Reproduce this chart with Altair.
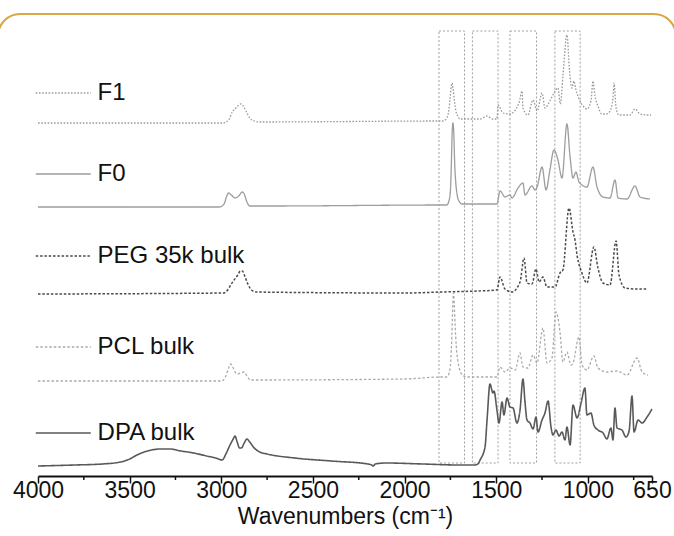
import altair as alt
import pandas as pd

# ---------------- data ----------------
F1_w = [4000, 2990, 2960, 2940, 2920, 2905, 2895, 2880, 2865, 2845, 2820, 2790,
        1800, 1790, 1770, 1760, 1752, 1745, 1741, 1736, 1728, 1720, 1710, 1698,
        1643, 1588, 1550, 1520, 1496, 1490, 1463, 1425, 1376, 1359, 1354, 1327, 1299, 1277, 1250, 1234,
        1207, 1185, 1163, 1150, 1136, 1114, 1100, 1087, 1076, 1065, 1050, 1030, 1005, 983, 972, 961, 945,
        923, 900, 879, 863, 857, 846, 830, 808, 770, 743, 715, 672, 655]
F1_v = [353, 353, 356, 364, 368, 371, 372, 370, 365, 358, 355, 354,
        355, 355, 358, 364, 377, 390, 393, 388, 375, 365, 360, 357,
        357, 357, 360, 357, 357, 371, 363, 362, 373, 385, 368, 361, 376, 365, 383, 368,
        375, 383, 388, 372, 400, 441, 405, 388, 395, 386, 378, 371, 367, 375, 395, 380, 370,
        362, 362, 365, 378, 393, 368, 361, 361, 361, 367, 362, 361, 361]

F0_w = [4000, 3010, 2985, 2970, 2960, 2945, 2925, 2905, 2885, 2875, 2860, 2845, 2734,
        1800, 1770, 1758, 1750, 1745, 1740, 1736, 1732, 1726, 1720, 1712, 1700, 1685,
        1600, 1496, 1479, 1452, 1425, 1414, 1381, 1354, 1343, 1305, 1288, 1277, 1250, 1228, 1207,
        1185, 1163, 1141, 1114, 1097, 1081, 1065, 1048, 1005, 972, 950, 917, 879, 852, 835, 786, 743,
        715, 661]
F0_v = [269, 269, 272, 280, 283, 281, 278, 280, 284, 282, 274, 270, 270,
        271, 271, 275, 285, 310, 345, 353, 345, 310, 292, 280, 274, 272,
        272, 272, 285, 279, 281, 278, 288, 293, 281, 290, 286, 289, 309, 286, 306,
        326, 316, 298, 352, 319, 298, 304, 294, 289, 309, 289, 279, 278, 296, 278, 277, 290,
        279, 277]

PEG_w = [4000, 2990, 2965, 2945, 2930, 2910, 2895, 2885, 2870, 2855, 2835, 2810, 2000,
         1800, 1600, 1496, 1479, 1452, 1414, 1370, 1348, 1332,
         1305, 1283, 1266, 1245, 1223, 1179, 1152, 1136, 1103, 1081, 1070, 1059, 1032, 1005, 967, 945,
         917, 879, 846, 830, 797, 732, 672]
PEG_v = [182, 183, 186, 192, 196, 201, 205, 205, 199, 192, 186, 184, 183,
         184, 185, 186, 199, 187, 184, 194, 218, 193,
         192, 207, 194, 199, 189, 189, 203, 206, 268, 244, 236, 221, 203, 193, 229, 208,
         193, 191, 235, 201, 188, 187, 187]

PCL_w = [4000, 3000, 2975, 2960, 2950, 2940, 2925, 2910, 2895, 2875, 2860, 2840, 2000,
         1800, 1770, 1757, 1748, 1742, 1737, 1733, 1729, 1724, 1718, 1710, 1700, 1685,
         1660, 1496, 1479, 1452, 1425, 1397, 1370, 1354, 1327, 1299, 1277, 1245, 1223, 1196, 1174, 1152,
         1136, 1114, 1092, 1081, 1048, 1032, 1005, 967, 945, 896, 841, 786, 732, 704, 672]
PCL_v = [95, 95, 100, 108, 112, 110, 104, 102, 103, 104, 100, 96, 97,
         99, 99, 103, 115, 140, 170, 183, 172, 150, 130, 116, 107, 101,
         99, 99, 109, 104, 108, 106, 123, 109, 108, 121, 113, 148, 113, 118, 164, 144,
         114, 124, 111, 113, 139, 111, 106, 120, 108, 104, 105, 101, 118, 104, 101]

DPA_w = [4000, 3800, 3650, 3550, 3500, 3460, 3420, 3380, 3330, 3280, 3220, 3150, 3080, 3030,
         2995, 2975, 2955, 2935, 2925, 2915, 2900, 2890, 2875, 2860, 2845, 2820, 2790, 2750, 2600,
         2400, 2200, 2180, 2170, 2160, 2100, 1900, 1700, 1620, 1600, 1588, 1561, 1550, 1534, 1518, 1512,
         1496, 1485, 1468, 1458, 1441, 1425, 1408, 1387, 1370, 1354, 1343, 1332, 1316, 1299, 1283, 1272,
         1250, 1234, 1217, 1201, 1190, 1174, 1157, 1141, 1125, 1114, 1097, 1081, 1059, 1037, 1016, 1005,
         983, 967, 945, 917, 896, 874, 863, 852, 841, 814, 792, 775, 759, 748, 726, 704, 677, 650]
DPA_v = [10, 11, 12, 14, 17, 21, 24, 26, 27, 27, 25, 23, 20, 18,
         16, 22, 30, 37, 40, 35, 28, 28, 33, 37, 34, 28, 24, 22, 18,
         15, 12, 11, 10, 12, 13, 12, 11, 11, 12, 16, 29, 56, 92, 83, 85,
         66, 53, 74, 61, 78, 69, 68, 53, 66, 97, 74, 56, 53, 47, 59, 44,
         56, 63, 75, 49, 41, 46, 40, 44, 36, 49, 31, 71, 58, 73, 88, 61,
         63, 51, 46, 43, 37, 48, 36, 68, 48, 46, 39, 45, 80, 44, 56, 53, 59, 67]

names = ["F1", "F0", "PEG 35k bulk", "PCL bulk", "DPA bulk"]
label_level = [383, 302, 220, 129, 43]

band_lo = [1673, 1490, 1280, 1042]
band_hi = [1812, 1630, 1425, 1180]

major_ticks = [4000, 3500, 3000, 2500, 2000, 1500, 1000, 650]
minor_ticks = [3750, 3250, 2750, 2250, 1750, 1250, 750]

# ---------------- styles ----------------
styles = {
    "F1": dict(color="#9a9a9a", strokeDash=[1.6, 1.6], strokeWidth=1.3),
    "F0": dict(color="#9d9d9d", strokeDash=[1, 0], strokeWidth=1.3),
    "PEG 35k bulk": dict(color="#4a4a4a", strokeDash=[2.5, 1.8], strokeWidth=1.5),
    "PCL bulk": dict(color="#ababab", strokeDash=[2.5, 2], strokeWidth=1.3),
    "DPA bulk": dict(color="#595959", strokeDash=[1, 0], strokeWidth=1.6),
}
series = {
    "F1": (F1_w, F1_v), "F0": (F0_w, F0_v), "PEG 35k bulk": (PEG_w, PEG_v),
    "PCL bulk": (PCL_w, PCL_v), "DPA bulk": (DPA_w, DPA_v),
}

W, H = 614, 446
FONT = "Liberation Sans"
xscale = alt.Scale(domain=[650, 4000], reverse=True, nice=False, zero=False)
yscale = alt.Scale(domain=[0, 446], nice=False, zero=False)

xaxis = alt.Axis(values=major_ticks, title="Wavenumbers (cm⁻¹)", grid=False,
                 labelFont=FONT, labelFontSize=23, labelColor="#111", labelPadding=-4,
                 titleFont=FONT, titleFontSize=23, titleFontWeight="normal", titleColor="#111",
                 titlePadding=3, tickSize=7, tickWidth=1.5, tickColor="#111",
                 domainColor="#111", domainWidth=1.8, labelFlush=False, labelOverlap=False,
                 format="d")

layers = []

# frame (decorative rounded border)
frame = alt.Chart(pd.DataFrame({"k": [0]})).mark_rect(
    filled=False, stroke="#d8a942", strokeWidth=2, cornerRadius=22
).encode(x=alt.value(-40), x2=alt.value(638), y=alt.value(-16), y2=alt.value(620))
layers.append(frame)

# dashed boxes
bands = pd.DataFrame({"lo": band_lo, "hi": band_hi, "top": [445] * 4, "bot": [13] * 4})
box = alt.Chart(bands).mark_rect(
    filled=False, stroke="#a0a0a0", strokeWidth=1, strokeDash=[2, 2]
).encode(x=alt.X("lo:Q", scale=xscale, axis=xaxis), x2="hi:Q",
         y=alt.Y("top:Q", scale=yscale, axis=None), y2="bot:Q")
layers.append(box)

# spectra
for n in names:
    w, v = series[n]
    df = pd.DataFrame({"w": w, "v": v})
    st = styles[n]
    layers.append(
        alt.Chart(df).mark_line(interpolate="monotone", **st).encode(
            x=alt.X("w:Q", scale=xscale, axis=xaxis),
            y=alt.Y("v:Q", scale=yscale, axis=None),
        )
    )

# legend-like labels
for n, lv in zip(names, label_level):
    st = styles[n]
    seg = pd.DataFrame({"a": [4012], "b": [3712], "y": [lv]})
    layers.append(
        alt.Chart(seg).mark_rule(**st).encode(
            x=alt.X("a:Q", scale=xscale, axis=xaxis), x2="b:Q",
            y=alt.Y("y:Q", scale=yscale, axis=None)))
    lab = pd.DataFrame({"t": [n], "x": [3675], "y": [lv]})
    layers.append(
        alt.Chart(lab).mark_text(align="left", baseline="middle", font=FONT,
                                 fontSize=24, color="#111").encode(
            x=alt.X("x:Q", scale=xscale, axis=xaxis),
            y=alt.Y("y:Q", scale=yscale, axis=None), text="t:N"))

# minor ticks
mt = pd.DataFrame({"m": minor_ticks})
layers.append(
    alt.Chart(mt).mark_rule(color="#111", strokeWidth=1.5).encode(
        x=alt.X("m:Q", scale=xscale, axis=xaxis),
        y=alt.value(H), y2=alt.value(H + 4)))

chart = alt.layer(*layers).properties(
    width=W, height=H,
    padding={"left": 38, "top": 30, "right": 22, "bottom": 60},
    autosize=alt.AutoSizeParams(type="none"),
    background="white",
).configure_view(strokeWidth=0)

chart.save("out.html", embed_options={"renderer": "svg", "actions": False})
